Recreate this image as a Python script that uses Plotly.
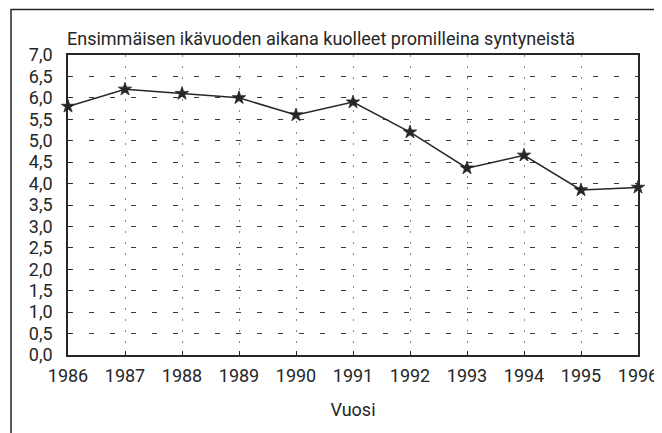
import plotly.graph_objects as go

years = [1986, 1987, 1988, 1989, 1990, 1991, 1992, 1993, 1994, 1995, 1996]
values = [5.8, 6.2, 6.1, 6.0, 5.6, 5.9, 5.2, 4.36, 4.66, 3.85, 3.91]
y_tickvals = [0, 0.5, 1, 1.5, 2, 2.5, 3, 3.5, 4, 4.5, 5, 5.5, 6, 6.5, 7]
y_ticktext = ["0,0", "0,5", "1,0", "1,5", "2,0", "2,5", "3,0", "3,5", "4,0",
              "4,5", "5,0", "5,5", "6,0", "6,5", "7,0"]
x_ticktext = [str(y) for y in years]
title_text = "Ensimmäisen ikävuoden aikana kuolleet promilleina syntyneistä"
x_title = "Vuosi"

FONT = "Roboto, Liberation Sans, sans-serif"
INK = "#262626"

fig = go.Figure()
fig.add_trace(go.Scatter(
    x=years, y=values, mode="lines+markers",
    line=dict(color=INK, width=1.5),
    marker=dict(symbol="star", size=10, color=INK, line=dict(color=INK, width=0.8)),
    cliponaxis=False, showlegend=False,
))

# the page body adds an 8px margin, so the figure is 8px smaller and margins offset
fig.update_layout(
    width=654, height=425,
    margin=dict(l=60, r=24, t=47, b=78),
    paper_bgcolor="white", plot_bgcolor="white",
    font=dict(family=FONT, size=17, color=INK),
    showlegend=False,
    xaxis=dict(
        range=[1986, 1996], tickvals=years, ticktext=x_ticktext,
        automargin=False,
        showgrid=True, gridcolor="#8a8a8a", gridwidth=1, griddash="2px,9px",
        showline=True, linecolor=INK, linewidth=1.5, mirror=True,
        ticks="inside", ticklen=4, tickcolor=INK,
        ticklabelstandoff=4, zeroline=False,
        title=dict(text=x_title, standoff=18, font=dict(size=18)),
        tickfont=dict(size=18),
    ),
    yaxis=dict(
        range=[0, 7], tickvals=y_tickvals, ticktext=y_ticktext,
        automargin=False,
        showgrid=True, gridcolor="#3a3a3a", gridwidth=1.3, griddash="5px,16px",
        showline=True, linecolor=INK, linewidth=1.5, mirror=True,
        ticks="inside", ticklen=4, tickcolor=INK,
        ticklabelstandoff=10, zeroline=False,
        tickfont=dict(size=18),
    ),
    annotations=[dict(
        text=title_text, xref="paper", yref="paper", x=0, y=(355 - 38) / 300,
        xanchor="left", yanchor="middle", showarrow=False, xshift=-3,
        font=dict(size=18, color=INK),
    )],
    shapes=[
        # clip region right of outer frame
        dict(type="rect", xref="paper", yref="paper",
             x0=(655 - 68) / 570, x1=(700 - 68) / 570, y0=-0.4, y1=1.3,
             fillcolor="white", line=dict(width=0), layer="above"),
        # outer frame
        dict(type="rect", xref="paper", yref="paper",
             x0=(11 - 68) / 570, x1=(655 - 68) / 570,
             y0=(355 - 445) / 300, y1=(355 - 9.5) / 300,
             line=dict(color=INK, width=1.5), fillcolor="rgba(0,0,0,0)",
             layer="above"),
    ],
)

fig.write_html("out.html")
